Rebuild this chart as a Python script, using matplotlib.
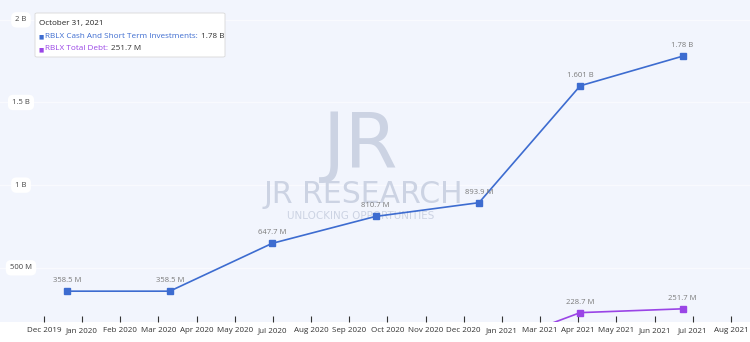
import pandas as pd
import matplotlib.pyplot as plt
import matplotlib.transforms as mtransforms
from matplotlib.patches import FancyBboxPatch

plt.rcParams['font.family'] = ['Open Sans', 'DejaVu Sans']

# Daten (Quartalsende)
dates = pd.to_datetime(['2019-12-31', '2020-03-31', '2020-06-30', '2020-09-30',
                        '2020-12-31', '2021-03-31', '2021-06-30'])
cash = [358.5, 358.5, 647.7, 810.7, 893.9, 1601.0, 1780.0]      # Mio. USD
cash_labels = ['358.5 M', '358.5 M', '647.7 M', '810.7 M', '893.9 M', '1.601 B', '1.78 B']
debt = [0.0, 0.0, 0.0, 0.0, 0.0, 228.7, 251.7]
debt_labels = [None, None, None, None, None, '228.7 M', '251.7 M']

ytick_vals = [500, 1000, 1500, 2000]
ytick_labels = ['500 M', '1 B', '1.5 B', '2 B']
xtick_labels = ['Dec 2019', 'Jan 2020', 'Feb 2020', 'Mar 2020', 'Apr 2020', 'May 2020',
                'Jul 2020', 'Aug 2020', 'Sep 2020', 'Oct 2020', 'Nov 2020', 'Dec 2020',
                'Jan 2021', 'Mar 2021', 'Apr 2021', 'May 2021', 'Jun 2021', 'Jul 2021',
                'Aug 2021']
xtick_dates = pd.date_range('2019-12-10', '2021-08-12', periods=len(xtick_labels))

blue = '#3d6cd0'
purple = '#9a45e6'
bg = '#f2f5fd'
label_col = '#7a7a7a'

fig = plt.figure(figsize=(7.5, 3.42), dpi=100)
ax = fig.add_axes([0, 20 / 342, 1, 1 - 20 / 342])
ax.set_facecolor(bg)

ax.set_xlim(pd.Timestamp('2019-11-01'), pd.Timestamp('2021-08-29'))
ax.set_ylim(172, 2120)

for v in ytick_vals:
    ax.axhline(v, color='#f9fafe', lw=1.0, zorder=1)

# Wasserzeichen
wm = '#ccd3e3'
ax.text(361 / 750, 0.545, 'JR', transform=ax.transAxes, ha='center', va='center',
        fontsize=55, color=wm, family='DejaVu Sans', zorder=1.5)
ax.text(363 / 750, 0.395, 'JR RESEARCH', transform=ax.transAxes, ha='center', va='center',
        fontsize=21.5, color=wm, family='DejaVu Sans', zorder=1.5)
ax.text(361 / 750, 0.33, 'UNLOCKING OPPORTUNITIES', transform=ax.transAxes, ha='center',
        va='center', fontsize=7.5, color=wm, family='DejaVu Sans', zorder=1.5)

ax.plot(dates, cash, color=blue, lw=1.2, marker='s', ms=5, zorder=3)
ax.plot(dates, debt, color=purple, lw=1.2, marker='s', ms=5, zorder=3)

for d, v, t in zip(dates, cash, cash_labels):
    ax.annotate(t, (d, v), xytext=(0, 5), textcoords='offset points',
                ha='center', va='bottom', fontsize=5.5, color=label_col, zorder=4)
for d, v, t in zip(dates, debt, debt_labels):
    if t:
        ax.annotate(t, (d, v), xytext=(0, 5), textcoords='offset points',
                    ha='center', va='bottom', fontsize=5.5, color=label_col, zorder=4)

# Y-Beschriftung in weissen Kaestchen
trans = mtransforms.blended_transform_factory(ax.transAxes, ax.transData)
for v, t in zip(ytick_vals, ytick_labels):
    ax.text(0.028, v, t, transform=trans, ha='center', va='center', fontsize=5.5,
            color='#444444', zorder=5,
            bbox=dict(boxstyle='round,pad=0.55,rounding_size=0.7', fc='white', ec='none'))

# X-Achse: Striche innen, Beschriftung darunter
ax.set_yticks([])
ax.set_xticks(xtick_dates)
ax.set_xticklabels([])
ax.tick_params(axis='x', direction='in', length=4, width=0.8, color='#333333')
xtrans = mtransforms.blended_transform_factory(ax.transData, fig.transFigure)
for d, t in zip(xtick_dates, xtick_labels):
    ax.text(d, 10 / 342, t, transform=xtrans, ha='center', va='baseline',
            fontsize=5.8, color='#333333', clip_on=False)
for s in ax.spines.values():
    s.set_visible(False)

# Tooltip
tip = FancyBboxPatch((35 / 750, 285 / 342), 190 / 750, 44 / 342,
                     boxstyle='round,pad=0,rounding_size=0.003', transform=fig.transFigure,
                     fc='white', ec='#d8d8d8', lw=0.6, zorder=10)
fig.patches.append(tip)
fig.text(39 / 750, 318 / 342, 'October 31, 2021', fontsize=5.8, color='#222222',
         va='center', zorder=11)
fig.text(38.5 / 750, 305.5 / 342, '■', fontsize=4, color=blue, va='center', zorder=11)
t1 = fig.text(45 / 750, 306 / 342, 'RBLX Cash And Short Term Investments:', fontsize=5.9,
              color=blue, va='center', zorder=11)
fig.text(38.5 / 750, 292.5 / 342, '■', fontsize=4, color=purple, va='center', zorder=11)
t2 = fig.text(45 / 750, 293 / 342, 'RBLX Total Debt:', fontsize=5.9, color=purple,
              va='center', zorder=11)

# Werte direkt hinter den farbigen Text setzen
fig.canvas.draw()
r = fig.canvas.get_renderer()
for t, val in [(t1, '1.78 B'), (t2, '251.7 M')]:
    bb = t.get_window_extent(r)
    fig.text((bb.x1 + 3) / fig.bbox.width, t.get_position()[1], val,
             fontsize=5.9, color='#333333', va='center', zorder=11)

fig.savefig('out.png', dpi=100, facecolor='white')
